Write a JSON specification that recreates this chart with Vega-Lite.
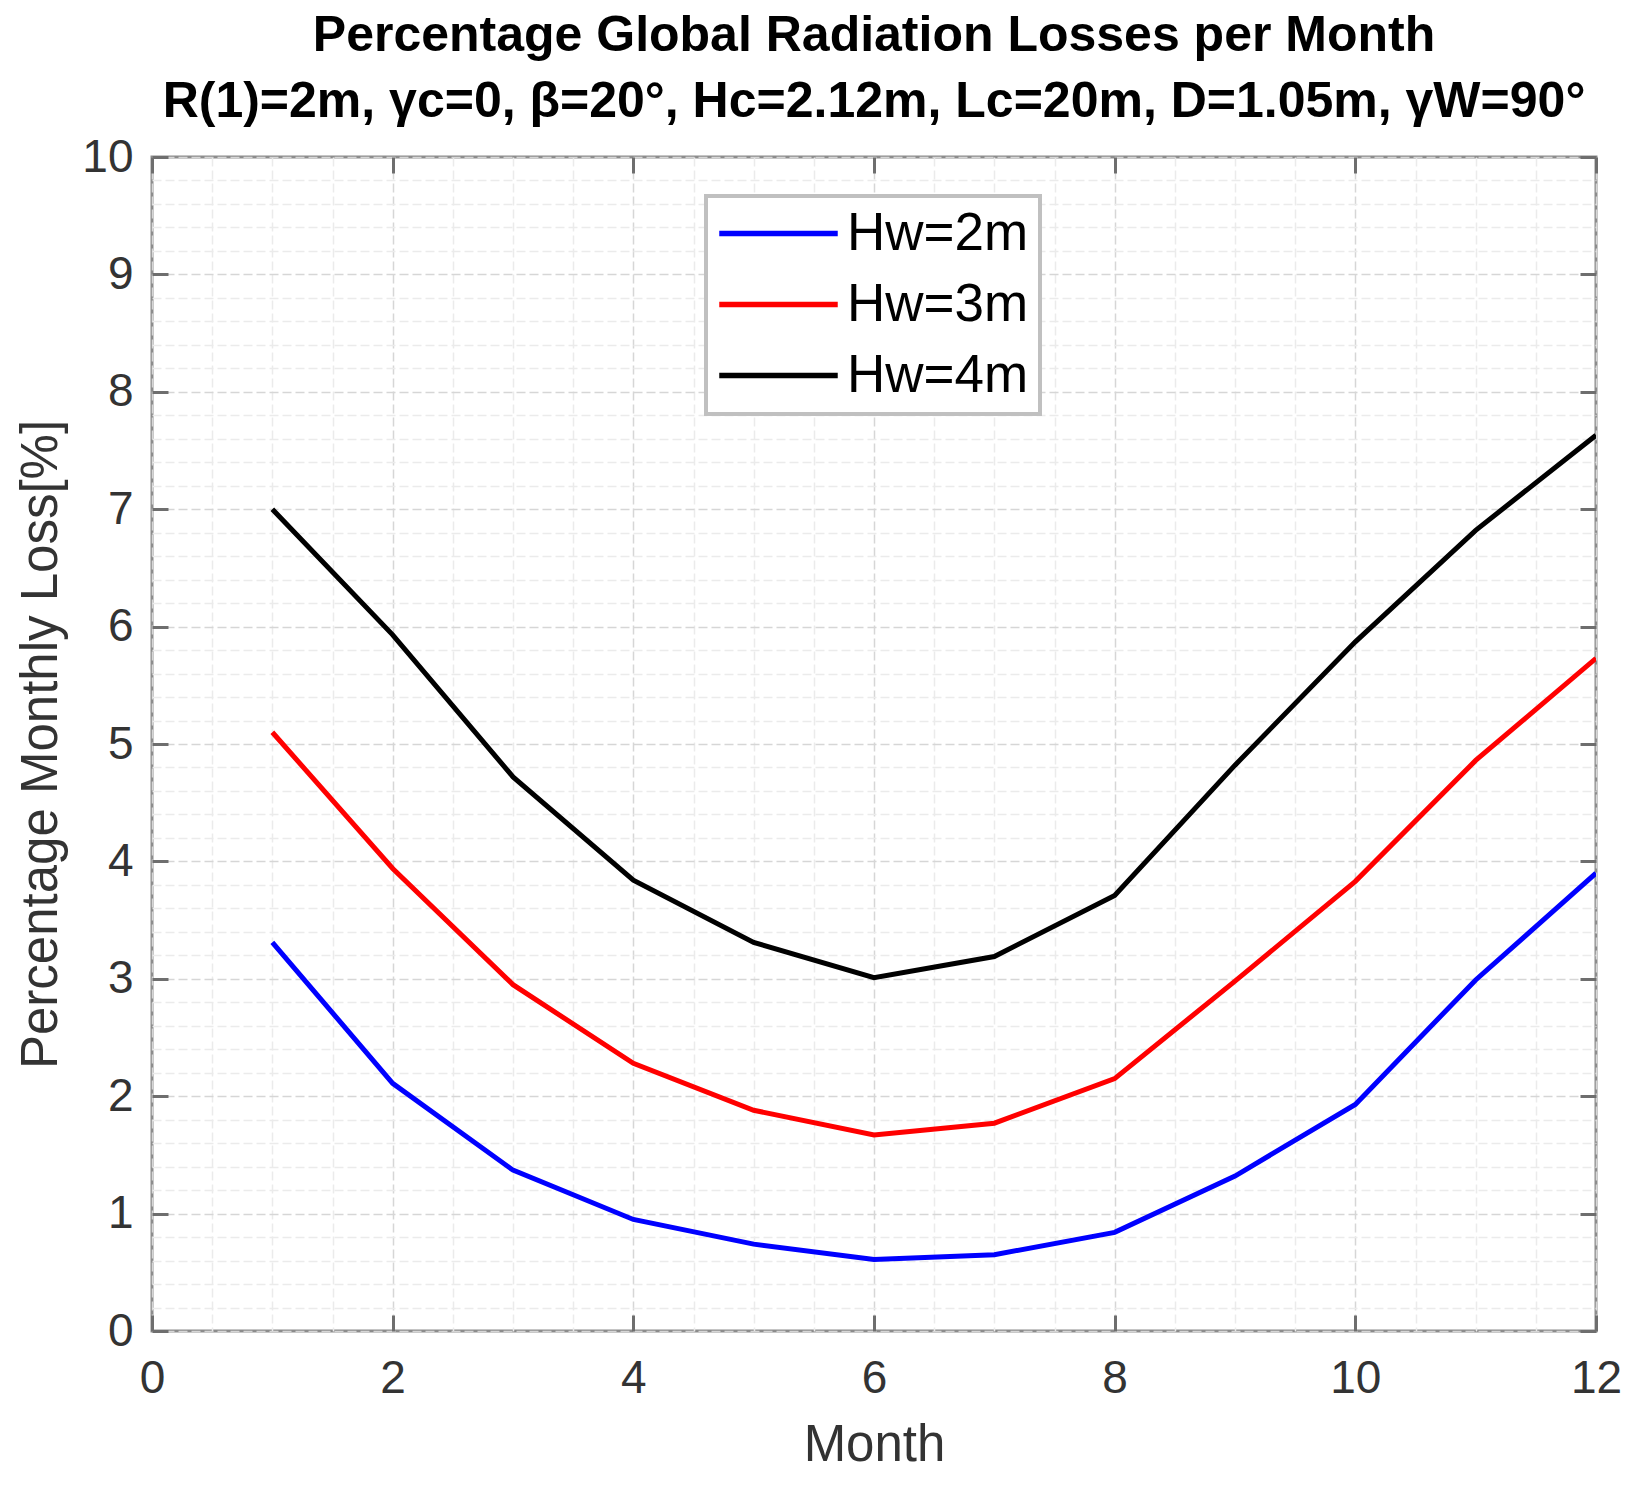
{
  "$schema": "https://vega.github.io/schema/vega-lite/v6.json",
  "width": 1444,
  "height": 1174,
  "autosize": "none",
  "padding": {"left": 152, "top": 157, "right": 38, "bottom": 156},
  "background": "white",
  "title": {
    "text": [
      "Percentage Global Radiation Losses per Month",
      "R(1)=2m, γc=0, β=20°, Hc=2.12m, Lc=20m, D=1.05m,  γW=90°"
    ],
    "font": "Liberation Sans",
    "fontSize": 50,
    "fontWeight": "bold",
    "color": "#000000",
    "lineHeight": 66,
    "anchor": "middle",
    "offset": 7
  },
  "data": {
    "values": [
      {"month": 1, "loss": 3.31, "series": "Hw=2m"},
      {"month": 2, "loss": 2.11, "series": "Hw=2m"},
      {"month": 3, "loss": 1.37, "series": "Hw=2m"},
      {"month": 4, "loss": 0.95, "series": "Hw=2m"},
      {"month": 5, "loss": 0.74, "series": "Hw=2m"},
      {"month": 6, "loss": 0.61, "series": "Hw=2m"},
      {"month": 7, "loss": 0.65, "series": "Hw=2m"},
      {"month": 8, "loss": 0.84, "series": "Hw=2m"},
      {"month": 9, "loss": 1.32, "series": "Hw=2m"},
      {"month": 10, "loss": 1.93, "series": "Hw=2m"},
      {"month": 11, "loss": 2.99, "series": "Hw=2m"},
      {"month": 12, "loss": 3.90, "series": "Hw=2m"},
      {"month": 1, "loss": 5.10, "series": "Hw=3m"},
      {"month": 2, "loss": 3.94, "series": "Hw=3m"},
      {"month": 3, "loss": 2.95, "series": "Hw=3m"},
      {"month": 4, "loss": 2.28, "series": "Hw=3m"},
      {"month": 5, "loss": 1.88, "series": "Hw=3m"},
      {"month": 6, "loss": 1.67, "series": "Hw=3m"},
      {"month": 7, "loss": 1.77, "series": "Hw=3m"},
      {"month": 8, "loss": 2.15, "series": "Hw=3m"},
      {"month": 9, "loss": 2.98, "series": "Hw=3m"},
      {"month": 10, "loss": 3.83, "series": "Hw=3m"},
      {"month": 11, "loss": 4.86, "series": "Hw=3m"},
      {"month": 12, "loss": 5.73, "series": "Hw=3m"},
      {"month": 1, "loss": 7.00, "series": "Hw=4m"},
      {"month": 2, "loss": 5.93, "series": "Hw=4m"},
      {"month": 3, "loss": 4.72, "series": "Hw=4m"},
      {"month": 4, "loss": 3.84, "series": "Hw=4m"},
      {"month": 5, "loss": 3.31, "series": "Hw=4m"},
      {"month": 6, "loss": 3.01, "series": "Hw=4m"},
      {"month": 7, "loss": 3.19, "series": "Hw=4m"},
      {"month": 8, "loss": 3.71, "series": "Hw=4m"},
      {"month": 9, "loss": 4.82, "series": "Hw=4m"},
      {"month": 10, "loss": 5.87, "series": "Hw=4m"},
      {"month": 11, "loss": 6.82, "series": "Hw=4m"},
      {"month": 12, "loss": 7.63, "series": "Hw=4m"}
    ]
  },
  "layer": [
    {
      "mark": {"type": "line", "strokeWidth": 5, "clip": true},
      "encoding": {
        "x": {
          "field": "month",
          "type": "quantitative",
          "scale": {"domain": [0, 12], "nice": false, "zero": false},
          "axis": {
            "orient": "bottom",
            "title": "Month",
            "values": [0, 0.5, 1, 1.5, 2, 2.5, 3, 3.5, 4, 4.5, 5, 5.5, 6, 6.5, 7, 7.5, 8, 8.5, 9, 9.5, 10, 10.5, 11, 11.5, 12],
            "labelExpr": "datum.value % 2 === 0 ? format(datum.value, 'd') : ''",
            "labelOverlap": false,
            "labelFlush": false,
            "tickOpacity": {"condition": {"test": "datum.value % 2 === 0", "value": 1}, "value": 0},
            "gridColor": {"condition": {"test": "datum.value % 2 === 0", "value": "#d6d6d6"}, "value": "#ebebeb"},
            "labelPadding": 41,
            "titlePadding": 19
          }
        },
        "y": {
          "field": "loss",
          "type": "quantitative",
          "scale": {"domain": [0, 10], "nice": false},
          "axis": {
            "orient": "left",
            "title": "Percentage Monthly Loss[%]",
            "values": [0, 0.2, 0.4, 0.6, 0.8, 1, 1.2, 1.4, 1.6, 1.8, 2, 2.2, 2.4, 2.6, 2.8, 3, 3.2, 3.4, 3.6, 3.8, 4, 4.2, 4.4, 4.6, 4.8, 5, 5.2, 5.4, 5.6, 5.8, 6, 6.2, 6.4, 6.6, 6.8, 7, 7.2, 7.4, 7.6, 7.8, 8, 8.2, 8.4, 8.6, 8.8, 9, 9.2, 9.4, 9.6, 9.8, 10],
            "labelExpr": "abs(datum.value - round(datum.value)) < 0.01 ? format(datum.value, 'd') : ''",
            "labelOverlap": false,
            "labelFlush": false,
            "tickOpacity": {"condition": {"test": "abs(datum.value - round(datum.value)) < 0.01", "value": 1}, "value": 0},
            "gridColor": {"condition": {"test": "abs(datum.value - round(datum.value)) < 0.01", "value": "#d6d6d6"}, "value": "#ebebeb"},
            "labelPadding": 35,
            "titlePadding": 14
          }
        },
        "color": {
          "field": "series",
          "type": "nominal",
          "scale": {"domain": ["Hw=2m", "Hw=3m", "Hw=4m"], "range": ["#0000ff", "#ff0000", "#000000"]},
          "legend": {
            "orient": "none",
            "legendX": 554,
            "legendY": 39,
            "title": null,
            "symbolType": "M-3,0H3",
            "symbolSize": 1560,
            "symbolStrokeWidth": 5.5,
            "symbolOffset": 35,
            "labelFont": "Liberation Sans",
            "labelFontSize": 53,
            "labelColor": "#000000",
            "labelOffset": 42,
            "labelLimit": 400,
            "rowPadding": 17,
            "padding": 11,
            "strokeColor": "#c0c0c0",
            "fillColor": "#ffffff"
          }
        }
      }
    },
    {
      "mark": {"type": "line", "opacity": 0},
      "encoding": {
        "x": {
          "field": "month",
          "type": "quantitative",
          "axis": {"orient": "top", "title": null, "labels": false, "grid": false, "values": [0, 2, 4, 6, 8, 10, 12]}
        },
        "y": {
          "field": "loss",
          "type": "quantitative",
          "axis": {"orient": "right", "title": null, "labels": false, "grid": false, "values": [0, 1, 2, 3, 4, 5, 6, 7, 8, 9, 10]}
        }
      }
    }
  ],
  "resolve": {"axis": {"x": "independent", "y": "independent"}},
  "config": {
    "font": "Liberation Sans",
    "view": {"stroke": "#8c8c8c", "strokeWidth": 3},
    "legend": {"strokeWidth": 4},
    "axis": {
      "domain": false,
      "ticks": true,
      "tickSize": -16,
      "tickWidth": 3,
      "tickColor": "#6e6e6e",
      "grid": true,
      "gridWidth": 1.5,
      "gridDash": [9, 4],
      "labelFont": "Liberation Sans",
      "labelFontSize": 46,
      "labelColor": "#333333",
      "titleFont": "Liberation Sans",
      "titleFontSize": 51,
      "titleFontWeight": "normal",
      "titleColor": "#333333"
    }
  }
}
